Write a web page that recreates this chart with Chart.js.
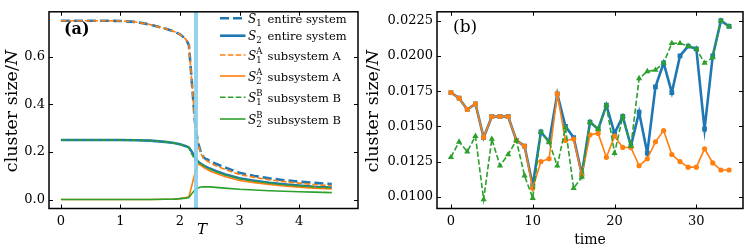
<!DOCTYPE html>
<html><head><meta charset="utf-8">
<script src="https://cdn.jsdelivr.net/npm/chart.js@4/dist/chart.umd.min.js"></script>
<style>
html,body{margin:0;padding:0;background:#fff;}
#wrap{position:relative;width:747px;height:249px;overflow:hidden;}
canvas{position:absolute;top:0;}
#ca{left:0;}
#cb{left:362px;}
</style></head><body>
<div id="wrap">
<canvas id="ca" width="362" height="249"></canvas>
<canvas id="cb" width="385" height="249"></canvas>
</div>
<script>
// ---------- Panel (a) data ----------
const T = [0, 0.25, 0.5, 0.75, 1.0, 1.25, 1.5, 1.75, 1.9, 2.0, 2.1, 2.15, 2.2, 2.25, 2.3, 2.35, 2.4, 2.5, 2.6, 2.75, 3.0, 3.25, 3.5, 3.75, 4.0, 4.25, 4.55];
const S1_entire = [0.75, 0.75, 0.75, 0.75, 0.749, 0.745, 0.734, 0.717, 0.705, 0.693, 0.672, 0.648, 0.49, 0.33, 0.24, 0.20, 0.175, 0.163, 0.150, 0.135, 0.112, 0.099, 0.089, 0.081, 0.075, 0.070, 0.065];
const S2_entire = [0.25, 0.25, 0.25, 0.25, 0.25, 0.249, 0.247, 0.242, 0.237, 0.232, 0.224, 0.218, 0.200, 0.178, 0.160, 0.150, 0.142, 0.130, 0.120, 0.106, 0.089, 0.079, 0.070, 0.064, 0.059, 0.054, 0.050];
const S1_A = [0.75, 0.75, 0.75, 0.75, 0.749, 0.745, 0.734, 0.717, 0.705, 0.693, 0.672, 0.648, 0.49, 0.33, 0.235, 0.195, 0.170, 0.155, 0.142, 0.127, 0.105, 0.093, 0.083, 0.075, 0.069, 0.063, 0.058];
const S2_A = [0, 0, 0, 0, 0, 0, 0, 0.001, 0.002, 0.004, 0.008, 0.013, 0.06, 0.11, 0.150, 0.143, 0.134, 0.120, 0.110, 0.097, 0.080, 0.071, 0.063, 0.057, 0.052, 0.048, 0.044];
const S1_B = [0.25, 0.25, 0.25, 0.25, 0.25, 0.249, 0.247, 0.242, 0.237, 0.232, 0.224, 0.218, 0.190, 0.168, 0.158, 0.150, 0.142, 0.128, 0.118, 0.104, 0.087, 0.077, 0.069, 0.062, 0.057, 0.053, 0.049];
const S2_B = [0, 0, 0, 0, 0, 0, 0, 0.001, 0.002, 0.004, 0.006, 0.009, 0.025, 0.040, 0.049, 0.053, 0.054, 0.053, 0.051, 0.048, 0.043, 0.040, 0.037, 0.035, 0.033, 0.031, 0.029];
const Tc = 2.269;
const xTicksA = [0, 1, 2, 3, 4];
const yTicksA = [0.0, 0.2, 0.4, 0.6];

// ---------- Panel (b) data ----------
const time = [0,1,2,3,4,5,6,7,8,9,10,11,12,13,14,15,16,17,18,19,20,21,22,23,24,25,26,27,28,29,30,31,32,33,34];
const blueB = [0.0174,0.0170,0.0162,0.0166,0.0142,0.0157,0.0157,0.0157,0.0140,0.0136,0.0108,
  0.0146,0.0139,0.0173,0.0150,0.0142,0.0116,0.0153,0.0148,0.0165,0.0145,0.0157,0.0136,0.0160,0.0131,0.0178,0.0195,0.0174,0.0200,0.0207,0.0205,0.0148,0.0200,0.0225,0.0221];
const orangeB = [0.0174,0.0170,0.0162,0.0166,0.0142,0.0157,0.0157,0.0157,0.0140,0.0136,0.0106,
  0.0125,0.0127,0.0173,0.0140,0.0141,0.0115,0.0144,0.0145,0.0128,0.0143,0.0135,0.0135,0.0122,0.0127,0.0139,0.0147,0.0130,0.0125,0.0121,0.0121,0.0134,0.0124,0.0119,0.0119];
const greenB = [0.0128,0.0139,0.0132,0.0143,0.0098,0.0141,0.0122,0.0130,0.0140,0.0115,0.0099,
  0.0146,0.0139,0.0122,0.0149,0.0106,0.0114,0.0153,0.0148,0.0165,0.0131,0.0157,0.0136,0.0184,0.0189,0.0190,0.0195,0.0209,0.0209,0.0207,0.0205,0.0195,0.0199,0.0225,0.0221];
const xTicksB = [0, 10, 20, 30];
const yTicksB = [0.0100, 0.0125, 0.0150, 0.0175, 0.0200, 0.0225];

const C0 = '#1f77b4', C1 = '#ff7f0e', C2 = '#2ca02c';
const FONT = 'DejaVu Serif';

function pts(xs, ys){ return xs.map((x,i)=>({x:x, y:ys[i]})); }

function drawRuns(ctx, runs, x, y, align){
  let w = 0;
  runs.forEach(r=>{ ctx.font = r.font; r.w = ctx.measureText(r.text).width; w += r.w; });
  let cx = align === 'center' ? x - w/2 : x;
  runs.forEach(r=>{ ctx.font = r.font; ctx.fillText(r.text, cx, y + (r.dy||0)); cx += r.w; });
}

function frameTicks(xt, yt){
  return { id:'frameTicks', afterDatasetsDraw(chart){
    const {ctx, chartArea:a, scales:{x, y}} = chart;
    ctx.save();
    ctx.strokeStyle = '#000'; ctx.lineWidth = 1;
    ctx.beginPath();
    xt.forEach(v=>{ const px = Math.round(x.getPixelForValue(v)) + 0.5;
      ctx.moveTo(px, a.bottom); ctx.lineTo(px, a.bottom - 4);
      ctx.moveTo(px, a.top); ctx.lineTo(px, a.top + 4); });
    yt.forEach(v=>{ const py = Math.round(y.getPixelForValue(v)) + 0.5;
      ctx.moveTo(a.left, py); ctx.lineTo(a.left + 4, py);
      ctx.moveTo(a.right, py); ctx.lineTo(a.right - 4, py); });
    ctx.stroke();
    ctx.lineWidth = 1.5;
    ctx.strokeRect(a.left, a.top, a.right - a.left, a.bottom - a.top);
    ctx.restore();
  }};
}

function axisLabels(opts){
  return { id:'axisLabels', afterDraw(chart){
    const ctx = chart.ctx;
    ctx.save();
    ctx.fillStyle = '#000'; ctx.textBaseline = 'alphabetic';
    ctx.save();
    ctx.translate(opts.yx, opts.yy);
    ctx.rotate(-Math.PI/2);
    drawRuns(ctx, [
      {text:'cluster size/', font: opts.ys + 'px "' + FONT + '"'},
      {text:'N', font: 'italic ' + opts.ys + 'px "' + FONT + '"'}
    ], 0, 0, 'center');
    ctx.restore();
    drawRuns(ctx, [{text: opts.xl, font: (opts.xlItalic ? 'italic ' : '') + opts.xs + 'px "' + FONT + '"'}], opts.xx, opts.xy, 'center');
    drawRuns(ctx, [{text: opts.tag, font: opts.tagFont}], opts.tx, opts.ty, 'left');
    ctx.restore();
  }};
}

const legendEntries = [
  {color:C0, dash:[9,4], w:2.6, sub:'1', sup:'', txt:'entire system'},
  {color:C0, dash:[], w:2.6, sub:'2', sup:'', txt:'entire system'},
  {color:C1, dash:[5.5,2.4], w:1.6, sub:'1', sup:'A', txt:'subsystem A'},
  {color:C1, dash:[], w:1.6, sub:'2', sup:'A', txt:'subsystem A'},
  {color:C2, dash:[5.5,2.4], w:1.6, sub:'1', sup:'B', txt:'subsystem B'},
  {color:C2, dash:[], w:1.6, sub:'2', sup:'B', txt:'subsystem B'}
];
const legendRows = [18.3, 35.7, 55, 76, 97.3, 119];

const legendA = { id:'legendA', afterDraw(chart){
  const ctx = chart.ctx;
  ctx.save();
  legendEntries.forEach((e, i)=>{
    const y = legendRows[i];
    ctx.strokeStyle = e.color; ctx.lineWidth = e.w; ctx.setLineDash(e.dash);
    ctx.beginPath(); ctx.moveTo(220, y); ctx.lineTo(245.5, y); ctx.stroke();
    ctx.setLineDash([]);
    ctx.fillStyle = '#000';
    ctx.font = 'italic 12px "' + FONT + '"';
    ctx.fillText('S', 248, y + 4.5);
    const sw = ctx.measureText('S').width;
    ctx.font = '8.5px "' + FONT + '"';
    ctx.fillText(e.sub, 248 + sw, y + 7.5);
    if (e.sup) ctx.fillText(e.sup, 248 + sw, y - 1.5);
    ctx.font = '11.5px "' + FONT + '"';
    ctx.fillText(e.txt, 267.5, y + 4.5);
  });
  ctx.restore();
}};

function lineDS(label, data, color, width, dash, order){
  return {label, data, borderColor:color, backgroundColor:color, borderWidth:width,
    borderDash:dash, pointRadius:0, tension:0, order, fill:false};
}

const tickFont = {family: FONT, size: 13};

new Chart(document.getElementById('ca'), {
  type:'line',
  data:{ datasets:[
    lineDS('S1 entire system', pts(T, S1_entire), C0, 2.6, [9,4], 6),
    lineDS('S2 entire system', pts(T, S2_entire), C0, 2.6, [], 5),
    lineDS('S1A subsystem A', pts(T, S1_A), C1, 1.6, [5.5,2.4], 4),
    lineDS('S2A subsystem A', pts(T, S2_A), C1, 1.6, [], 3),
    lineDS('S1B subsystem B', pts(T, S1_B), C2, 1.6, [5.5,2.4], 2),
    lineDS('S2B subsystem B', pts(T, S2_B), C2, 1.6, [], 1),
    {label:'Tc', data:[{x:Tc, y:-0.0375},{x:Tc, y:0.7875}], borderColor:'rgba(135,206,235,0.9)', borderWidth:4, pointRadius:0, order:0}
  ]},
  options:{
    responsive:false, animation:false, devicePixelRatio:1,
    layout:{padding:{left:0, right:4, top:1.5, bottom:0}},
    plugins:{legend:{display:false}, tooltip:{enabled:false}},
    scales:{
      x:{type:'linear', min:-0.2, max:4.99,
        grid:{display:false, drawTicks:false}, border:{display:false},
        afterBuildTicks:s=>{ s.ticks = xTicksA.map(v=>({value:v})); },
        afterFit:s=>{ s.height = 40.5; },
        ticks:{autoSkip:false, maxRotation:0, padding:5, color:'#000', font:tickFont, callback:v=>String(v)}},
      y:{type:'linear', min:-0.0375, max:0.7875,
        grid:{display:false, drawTicks:false}, border:{display:false},
        afterBuildTicks:s=>{ s.ticks = yTicksA.map(v=>({value:v})); },
        afterFit:s=>{ s.width = 49; },
        ticks:{autoSkip:false, padding:4, color:'#000', font:tickFont, callback:v=>Number(v).toFixed(1)}}
    }
  },
  plugins:[frameTicks(xTicksA, yTicksA), legendA,
    axisLabels({yx:17, yy:111, ys:17.5, xl:'T', xs:15, xlItalic:true, xx:202, xy:233.5, tag:'(a)', tagFont:'bold 16px "' + FONT + '"', tx:64, ty:33.5})]
});

const bMin = Math.min(...blueB, ...orangeB, ...greenB), bMax = Math.max(...blueB, ...orangeB, ...greenB);
const bPad = 0.05 * (bMax - bMin);

new Chart(document.getElementById('cb'), {
  type:'line',
  data:{ datasets:[
    {label:'entire system', data:pts(time, blueB), borderColor:C0, backgroundColor:C0, borderWidth:2.6,
      pointStyle:'rect', pointRadius:3.4, pointBorderWidth:0, tension:0, order:3},
    {label:'subsystem A', data:pts(time, orangeB), borderColor:C1, backgroundColor:C1, borderWidth:1.6,
      pointStyle:'circle', pointRadius:2.6, pointBorderWidth:0, tension:0, order:2},
    {label:'subsystem B', data:pts(time, greenB), borderColor:C2, backgroundColor:C2, borderWidth:1.6, borderDash:[5.5,2.4],
      pointStyle:'triangle', pointRadius:3.6, pointBorderWidth:0, tension:0, order:1}
  ]},
  options:{
    responsive:false, animation:false, devicePixelRatio:1,
    layout:{padding:{left:0, right:4, top:1, bottom:0}},
    plugins:{legend:{display:false}, tooltip:{enabled:false}},
    scales:{
      x:{type:'linear', min:-1.7, max:35.7,
        grid:{display:false, drawTicks:false}, border:{display:false},
        afterBuildTicks:s=>{ s.ticks = xTicksB.map(v=>({value:v})); },
        afterFit:s=>{ s.height = 40.5; },
        ticks:{autoSkip:false, maxRotation:0, padding:5, color:'#000', font:tickFont, callback:v=>String(v)}},
      y:{type:'linear', min:bMin - bPad, max:bMax + bPad,
        grid:{display:false, drawTicks:false}, border:{display:false},
        afterBuildTicks:s=>{ s.ticks = yTicksB.map(v=>({value:v})); },
        afterFit:s=>{ s.width = 75; },
        ticks:{autoSkip:false, padding:4, color:'#000', font:tickFont, callback:v=>Number(v).toFixed(4)}}
    }
  },
  plugins:[frameTicks(xTicksB, yTicksB),
    axisLabels({yx:16, yy:111, ys:17.5, xl:'time', xs:14, xlItalic:false, xx:228, xy:244, tag:'(b)', tagFont:'17px "' + FONT + '"', tx:91, ty:32})]
});
</script>
</body></html>
